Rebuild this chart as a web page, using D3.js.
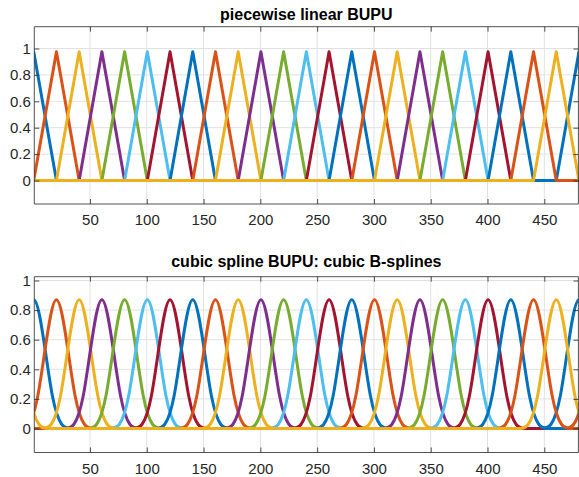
<!DOCTYPE html>
<html><head><meta charset="utf-8">
<script src="https://cdn.jsdelivr.net/npm/d3@7"></script>
<style>
body{margin:0;background:#fff}
svg{display:block}
text{font-family:"Liberation Sans",Arial,Helvetica,sans-serif}
</style>
</head><body><svg id="c" width="579" height="477"></svg>
<script>
// ---- data ----
const centers = [0.5,20.5,40.5,60.5,80.5,100.5,120.5,140.5,160.5,180.5,200.5,220.5,240.5,260.5,280.5,300.5,320.5,340.5,360.5,380.5,400.5,420.5,440.5,460.5];
const linearPeaks = [0.975,0.975,0.975,0.975,0.975,0.975,0.975,0.975,0.975,0.975,0.975,0.975,0.975,0.975,0.975,0.975,0.975,0.975,0.975,0.975,0.975,0.975,0.975,0.975];
const cubicPeaks = [0.87,0.87,0.87,0.87,0.87,0.87,0.87,0.87,0.87,0.87,0.87,0.87,0.87,0.87,0.87,0.87,0.87,0.87,0.87,0.87,0.87,0.87,0.87,0.87];
const period = 480;
const linearHalfWidth = 20;
const cubicKnotSpacing = 16.5;
const xDomain = [1, 480];
const xTicks = [50,100,150,200,250,300,350,400,450];
const yTicks = [0,0.2,0.4,0.6,0.8,1];
const yTickLabels = ["0","0.2","0.4","0.6","0.8","1"];
const titles = ["piecewise linear BUPU", "cubic spline BUPU: cubic B-splines"];
const colors = ["#0072BD","#D95319","#EDB120","#7E2F8E","#77AC30","#4DBEEE","#A2142F"];

// ---- layout ----
const panels = [
  {title: titles[0], l:34.3, r:578.4, t:26.7, b:204,   y0:180.5, y1:48.5,  titleY:20,  kind:"linear"},
  {title: titles[1], l:34.3, r:578.4, t:276.7, b:452.5, y0:428.5, y1:280.5, titleY:267, kind:"cubic"}
];
const axisColor = "#262626";
const gridColor = "#e1e1e1";

const svg = d3.select("#c");

// build vertex lists for each series (knot/control points)
function linearVertices(c, pk){
  const pts = [[-100,0]];
  [c - period, c, c + period].forEach(cc => {
    pts.push([cc - linearHalfWidth, 0], [cc, pk], [cc + linearHalfWidth, 0]);
  });
  pts.push([period + 100, 0]);
  return pts.sort((a,b)=>a[0]-b[0]);
}
function cubicControls(c, pk){
  const h = cubicKnotSpacing, w = pk * 1.5; // B-spline basis peak = 2/3 of control weight
  const pts = [[-120,0]];
  [c - period, c, c + period].forEach(cc => {
    pts.push([cc-3*h,0],[cc-2*h,0],[cc-h,0],[cc,w],[cc+h,0],[cc+2*h,0],[cc+3*h,0]);
  });
  pts.push([period + 120, 0]);
  return pts.sort((a,b)=>a[0]-b[0]);
}

panels.forEach((p, pi) => {
  const x = d3.scaleLinear().domain(xDomain).range([p.l, p.r]);
  const y = d3.scaleLinear().domain([0, 1]).range([p.y0, p.y1]);
  const g = svg.append("g");

  // grid
  g.append("g").selectAll("line").data(xTicks).join("line")
    .attr("x1", d=>x(d)).attr("x2", d=>x(d)).attr("y1", p.t).attr("y2", p.b)
    .attr("stroke", gridColor).attr("stroke-width", 1);
  g.append("g").selectAll("line").data(yTicks).join("line")
    .attr("x1", p.l).attr("x2", p.r).attr("y1", d=>y(d)).attr("y2", d=>y(d))
    .attr("stroke", gridColor).attr("stroke-width", 1);

  // clip
  const clipId = "clip" + pi;
  svg.append("clipPath").attr("id", clipId).append("rect")
    .attr("x", p.l).attr("y", p.t).attr("width", p.r - p.l).attr("height", p.b - p.t);

  const line = d3.line().x(d=>x(d[0])).y(d=>y(d[1]))
    .curve(p.kind === "cubic" ? d3.curveBasis : d3.curveLinear);

  const series = centers.map((c, i) => p.kind === "cubic"
    ? cubicControls(c, cubicPeaks[i]) : linearVertices(c, linearPeaks[i]));

  g.append("g").attr("clip-path", `url(#${clipId})`)
    .selectAll("path").data(series).join("path")
    .attr("d", line)
    .attr("fill", "none")
    .attr("stroke", (d,i)=>colors[i % colors.length])
    .attr("stroke-width", 3)
    .attr("stroke-linejoin", "round");

  // axes
  const fmt = d => yTickLabels[yTicks.indexOf(d)];
  const ax = [
    g.append("g").attr("transform", `translate(0,${p.b})`)
      .call(d3.axisBottom(x).tickValues(xTicks).tickSizeInner(-5).tickSizeOuter(0).tickPadding(10.5)),
    g.append("g").attr("transform", `translate(0,${p.t})`)
      .call(d3.axisTop(x).tickValues(xTicks).tickSizeInner(-5).tickSizeOuter(0).tickFormat("")),
    g.append("g").attr("transform", `translate(${p.l},0)`)
      .call(d3.axisLeft(y).tickValues(yTicks).tickFormat(fmt).tickSizeInner(-5).tickSizeOuter(0).tickPadding(3.5)),
    g.append("g").attr("transform", `translate(${p.r},0)`)
      .call(d3.axisRight(y).tickValues(yTicks).tickSizeInner(-5).tickSizeOuter(0).tickFormat(""))
  ];
  ax.forEach(a => {
    a.select(".domain").attr("stroke", axisColor).attr("stroke-width", 0.8);
    a.selectAll(".tick line").attr("stroke", axisColor).attr("stroke-width", 0.8);
    a.selectAll(".tick text").attr("fill", axisColor).style("font-size", "15px")
      .style("font-family", '"Liberation Sans",Arial,Helvetica,sans-serif');
  });
  // domain paths must span the full box
  ax[0].select(".domain").attr("d", `M${p.l},0H${p.r}`);
  ax[1].select(".domain").attr("d", `M${p.l},0H${p.r}`);
  ax[2].select(".domain").attr("d", `M0,${p.b}V${p.t}`);
  ax[3].select(".domain").attr("d", `M0,${p.b}V${p.t}`);

  // title
  svg.append("text").attr("x", (p.l + p.r)/2).attr("y", p.titleY)
    .attr("text-anchor", "middle").attr("font-weight", "bold").attr("font-size", "16px")
    .attr("fill", "#000").text(p.title);
});
</script>
</body></html>
